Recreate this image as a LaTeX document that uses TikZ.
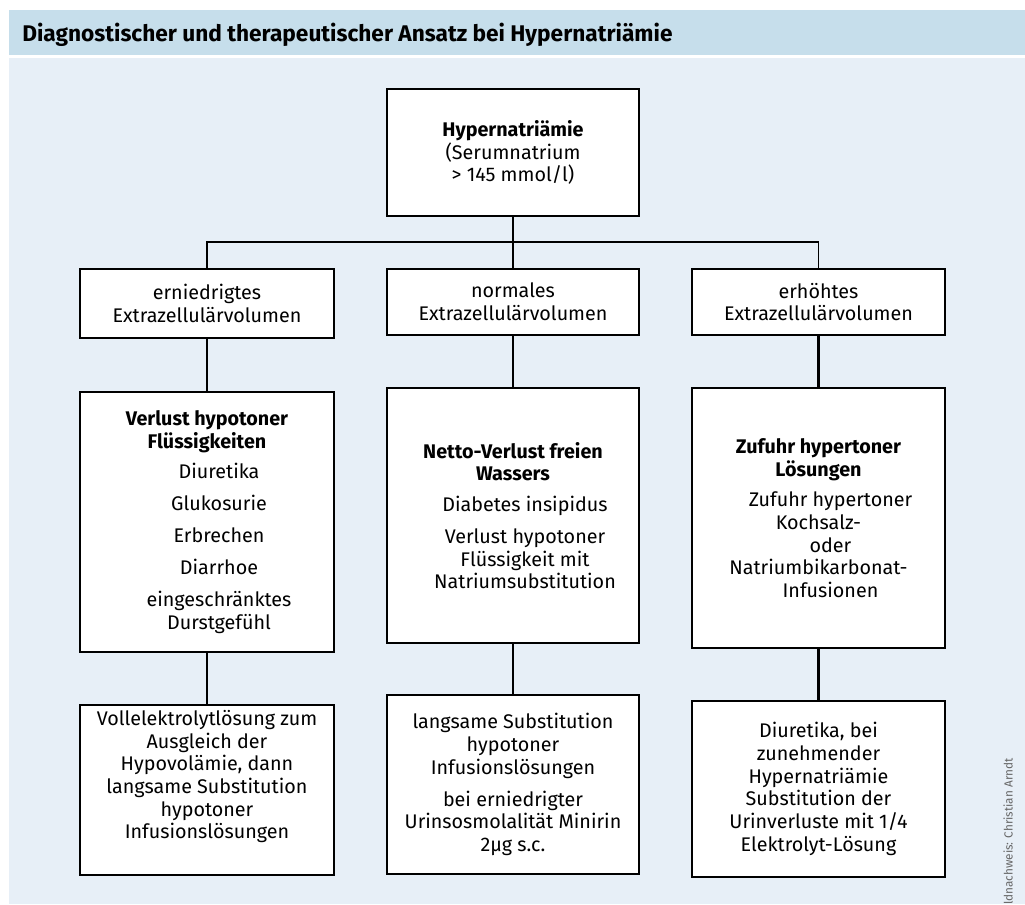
\documentclass[tikz,border=0pt]{standalone}
\usepackage{fontspec}
\setmainfont{Fira Sans}
\definecolor{hdr}{RGB}{198,222,235}
\definecolor{bgc}{RGB}{231,239,247}
\newcommand\bodyfont{\fontsize{14.8}{17}\selectfont}
\newcommand\ind{\hspace*{18pt}}
\begin{document}
\begin{tikzpicture}[x=0.75pt,y=-0.75pt,
  box/.style={draw=black,line width=1.5pt,fill=white,align=center,inner sep=0pt,font=\bodyfont},
  vline/.style={line width=2pt},
  hline/.style={line width=1.3pt}]
\useasboundingbox (0,0) rectangle (1025,904);
\fill[white] (0,0) rectangle (1025,904);
\fill[hdr] (9,10) rectangle (1025,55);
\fill[bgc] (9,58) rectangle (1025,904);
\node[anchor=base west,font=\bfseries\fontsize{17}{20}\selectfont,inner sep=0pt] (title) at (22,41) {Diagnostischer und therapeutischer Ansatz bei Hypernatriämie};

\node[box,minimum width=189pt,minimum height=95.25pt] (top) at (513,152.5)
  {\textbf{Hypernatriämie}\\(Serumnatrium\\> 145 mmol/l)};

\node[box,minimum width=190.5pt,minimum height=51.75pt] (l2a) at (207,303.5)
  {erniedrigtes\\Extrazellulärvolumen};
\node[box,minimum width=189pt,minimum height=49.5pt] (l2b) at (513,302)
  {normales\\Extrazellulärvolumen};
\node[box,minimum width=189.75pt,minimum height=49.5pt] (l2c) at (818.5,302)
  {erhöhtes\\Extrazellulärvolumen};

\node[box,minimum width=190.5pt,minimum height=195pt] (l3a) at (207,522)
  {\textbf{Verlust hypotoner}\\\textbf{Flüssigkeiten}\\[6pt]
   \ind Diuretika\\[7pt]\ind Glukosurie\\[7pt]\ind Erbrechen\\[7pt]\ind Diarrhoe\\[7pt]
   \ind eingeschränktes\\\ind Durstgefühl};
\node[box,minimum width=189pt,minimum height=191.25pt] (l3b) at (513,515.5)
  {\textbf{Netto-Verlust freien}\\\textbf{Wassers}\\[6pt]
   \ind Diabetes insipidus\\[7pt]\ind Verlust hypotoner\\\ind Flüssigkeit mit\\\ind Natriumsubstitution};
\node[box,minimum width=189.75pt,minimum height=195pt] (l3c) at (818.5,518)
  {\textbf{Zufuhr hypertoner}\\\textbf{Lösungen}\\[6pt]
   \ind Zufuhr hypertoner\\Kochsalz-\\\ind oder\\Natriumbikarbonat-\\\ind Infusionen};

\node[box,minimum width=190.5pt,minimum height=127.5pt] (l4a) at (207,790)
  {Vollelektrolytlösung zum\\Ausgleich der\\Hypovolämie, dann\\langsame Substitution\\hypotoner\\Infusionslösungen\\[6pt]};
\node[box,minimum width=189pt,minimum height=134.25pt] (l4b) at (513,784.5)
  {langsame Substitution\\hypotoner\\Infusionslösungen\\[7pt]bei erniedrigter\\Urinsosmolalität Minirin\\2µg s.c.};
\node[box,minimum width=189.75pt,minimum height=132pt] (l4c) at (818.5,789)
  {Diuretika, bei\\zunehmender\\Hypernatriämie\\Substitution der\\Urinverluste mit 1/4\\Elektrolyt-Lösung};

\coordinate (bus) at (513,242);
\draw[hline] (l2a.north) |- (bus) -| (l2c.north);
\draw[vline] (top) -- (l2b);
\draw[vline] (l2a) -- (l3a);
\draw[vline] (l2b) -- (l3b);
\draw[vline] (l2c) -- (l3c);
\draw[vline] (l3a) -- (l4a);
\draw[vline] (l3b) -- (l4b);
\draw[vline] (l3c) -- (l4c);

\begin{scope}
\clip (9,58) rectangle (1025,904);
\node[rotate=90,anchor=east,font=\fontsize{8.8}{10}\selectfont,text=black!60,inner sep=0pt] (credit) at (1008,758) {Bildnachweis: Christian Arndt};
\end{scope}
\end{tikzpicture}
\end{document}
